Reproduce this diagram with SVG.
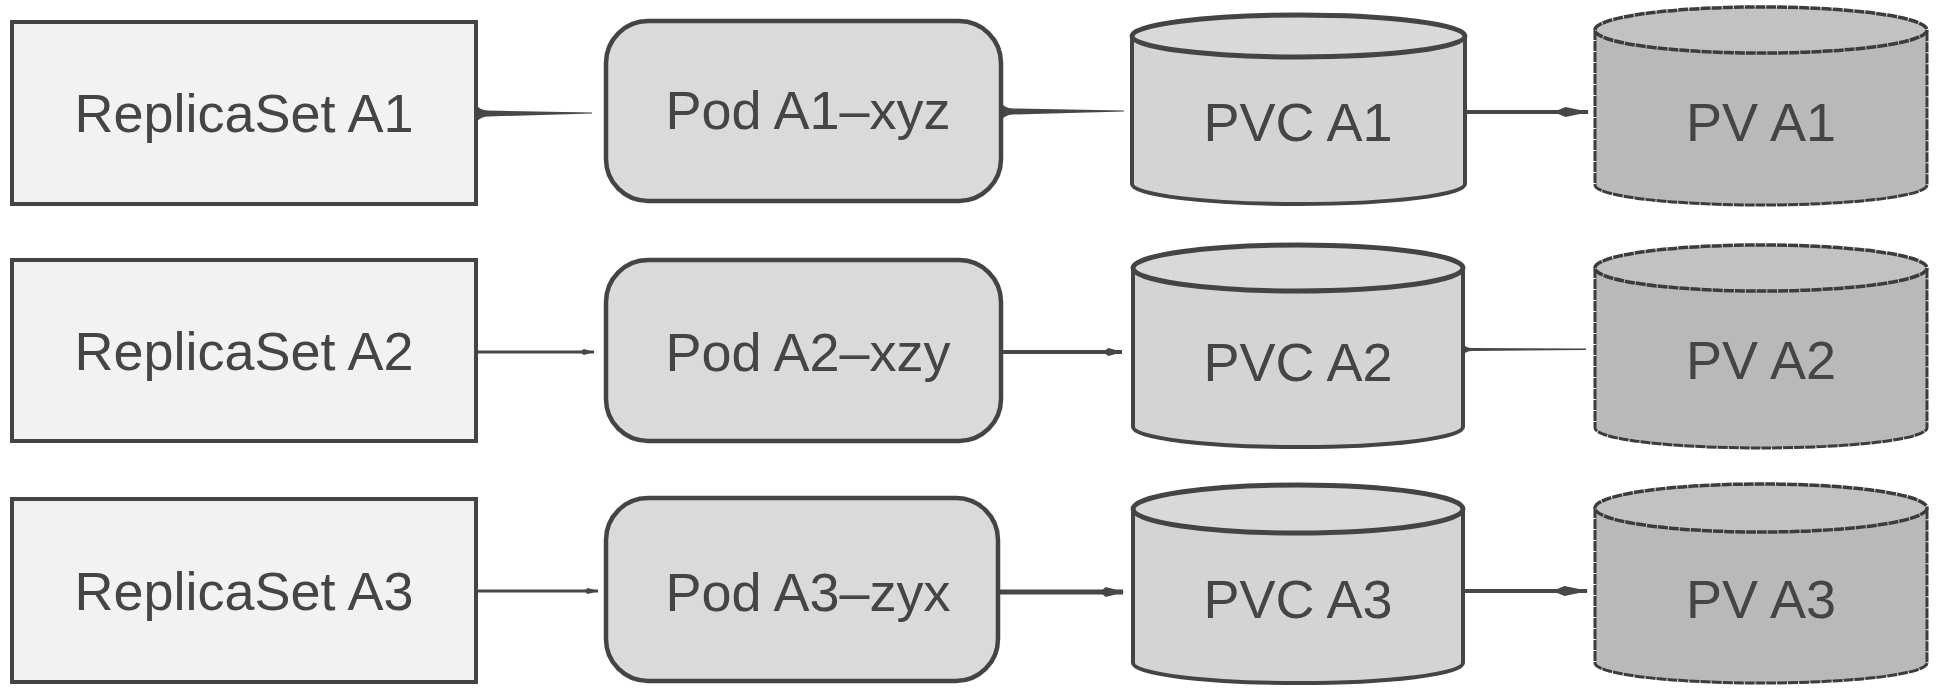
<svg xmlns="http://www.w3.org/2000/svg" width="1938" height="694" viewBox="0 0 1938 694">
<style>
  .rs { fill: #f2f2f2; stroke: #444; stroke-width: 4; }
  .pod { fill: #dadada; stroke: #444; stroke-width: 4.5; }
  .pvc { fill: #d4d4d4; stroke: #444; stroke-width: 4; }
  .pvctop { fill: #d9d9d9; stroke: #444; stroke-width: 5; }
  .pv { fill: #b9b9b9; stroke: #3c3c3c; stroke-width: 3; stroke-dasharray: 10 1; }
  .pvtop { fill: #c2c2c2; stroke: #3c3c3c; stroke-width: 3.5; stroke-dasharray: 10 1; }
  .lbl { font-family: "Liberation Sans", Arial, sans-serif; font-size: 54px; fill: #454545; text-anchor: middle; }
  .ln { fill: none; stroke: #474747; stroke-width: 4; }
  .thin { fill: none; stroke: #474747; stroke-width: 3; }
  .taper { fill: #474747; stroke: none; }
</style>
<defs>
  <marker id="head" viewBox="0 0 12 4" refX="11.5" refY="2" markerWidth="9" markerHeight="3" markerUnits="strokeWidth" orient="auto">
    <path d="M0,2 L4,0.3 L12,2 L4,3.7 Z" fill="#474747"/>
  </marker>
  <marker id="tip" viewBox="0 0 8 4" refX="7.5" refY="2" markerWidth="5" markerHeight="2.5" markerUnits="strokeWidth" orient="auto">
    <path d="M0,2 L2,0.4 L8,2 L2,3.6 Z" fill="#474747"/>
  </marker>
</defs>

<g id="connectors">
  <path class="taper" d="M476,104 Q479,110 488,110.5 L592,112.5 L592,113.5 L488,116.5 Q479,117 476,123 Z"/>
  <path class="taper" d="M1001,102 Q1004,108 1013,108.5 L1124,110.5 L1124,111.5 L1013,114.5 Q1004,115 1001,121 Z"/>
  <line class="ln" x1="1465" y1="112" x2="1588" y2="112" marker-end="url(#head)"/>

  <line class="thin" x1="476" y1="352" x2="594" y2="352" marker-end="url(#tip)"/>
  <line class="ln" x1="1001" y1="352" x2="1122" y2="352" marker-end="url(#tip)"/>
  <path class="taper" d="M1463,344 Q1466,348 1472,348 L1586,348.5 L1586,350 L1472,351 Q1466,351 1463,355 Z"/>

  <line class="thin" x1="476" y1="591" x2="598" y2="591" marker-end="url(#tip)"/>
  <line class="ln" x1="998" y1="592" x2="1123" y2="592" marker-end="url(#tip)" style="stroke-width:5"/>
  <line class="ln" x1="1463" y1="591" x2="1587" y2="591" marker-end="url(#head)"/>
</g>

<g id="rs-a1"><rect class="rs" x="12" y="22" width="464" height="182"/><text class="lbl" x="244" y="132">ReplicaSet A1</text></g>
<g id="rs-a2"><rect class="rs" x="12" y="260" width="464" height="181"/><text class="lbl" x="244" y="370">ReplicaSet A2</text></g>
<g id="rs-a3"><rect class="rs" x="12" y="499" width="464" height="183"/><text class="lbl" x="244" y="610">ReplicaSet A3</text></g>

<g id="pod-a1"><rect class="pod" x="606" y="21" width="395" height="180" rx="42"/><text class="lbl" x="808" y="129">Pod A1–xyz</text></g>
<g id="pod-a2"><rect class="pod" x="606" y="260" width="395" height="181" rx="42"/><text class="lbl" x="808" y="371">Pod A2–xzy</text></g>
<g id="pod-a3"><rect class="pod" x="606" y="498" width="392" height="183" rx="42"/><text class="lbl" x="808" y="611">Pod A3–zyx</text></g>

<g id="pvc-a1">
  <path class="pvc" d="M1132,36 L1132,184 A166.5,20 0 0 0 1465,184 L1465,36"/>
  <ellipse class="pvctop" cx="1298.5" cy="36" rx="166.5" ry="21"/>
  <text class="lbl" x="1298" y="141">PVC A1</text>
</g>
<g id="pvc-a2">
  <path class="pvc" d="M1133,268 L1133,427 A165,20 0 0 0 1463,427 L1463,268"/>
  <ellipse class="pvctop" cx="1298" cy="268" rx="165" ry="23"/>
  <text class="lbl" x="1298" y="381">PVC A2</text>
</g>
<g id="pvc-a3">
  <path class="pvc" d="M1133,509 L1133,663 A165,20 0 0 0 1463,663 L1463,509"/>
  <ellipse class="pvctop" cx="1298" cy="509" rx="165" ry="24"/>
  <text class="lbl" x="1298" y="618">PVC A3</text>
</g>

<g id="pv-a1">
  <path class="pv" d="M1595,30 L1595,185 A166,20 0 0 0 1927,185 L1927,30"/>
  <ellipse class="pvtop" cx="1761" cy="30" rx="166" ry="23"/>
  <text class="lbl" x="1761" y="141">PV A1</text>
</g>
<g id="pv-a2">
  <path class="pv" d="M1595,268 L1595,428 A166,20 0 0 0 1927,428 L1927,268"/>
  <ellipse class="pvtop" cx="1761" cy="268" rx="166" ry="23"/>
  <text class="lbl" x="1761" y="379">PV A2</text>
</g>
<g id="pv-a3">
  <path class="pv" d="M1595,508 L1595,663 A166,20 0 0 0 1927,663 L1927,508"/>
  <ellipse class="pvtop" cx="1761" cy="508" rx="166" ry="24"/>
  <text class="lbl" x="1761" y="618">PV A3</text>
</g>
</svg>
